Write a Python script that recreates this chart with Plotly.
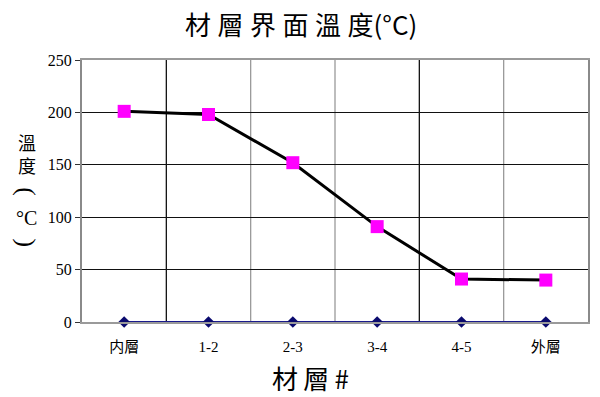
import plotly.graph_objects as go

categories = ["内層", "1-2", "2-3", "3-4", "4-5", "外層"]
temperature = [201, 198, 152, 91, 41, 40]
baseline = [0, 0, 0, 0, 0, 0]
y_ticks = [0, 50, 100, 150, 200, 250]

idx = list(range(len(categories)))
cjk = "Noto Sans CJK TC"
serif = "Liberation Serif, Noto Sans CJK TC"

fig = go.Figure()

# vertical separators between categories (gray, two darker)
dark_bounds = {0, 3}
for i in idx[:-1]:
    fig.add_shape(type="line", xref="x", yref="paper", x0=i + 0.5, x1=i + 0.5, y0=0, y1=1,
                  line=dict(color="#111111" if i in dark_bounds else "#9a9a9a", width=1.3), layer="below")

fig.add_trace(go.Scatter(x=idx, y=baseline, mode="lines+markers",
                         line=dict(color="#1a1a8c", width=2),
                         marker=dict(symbol="diamond", size=9, color="#0a0a6e"),
                         showlegend=False, cliponaxis=False))
fig.add_trace(go.Scatter(x=idx, y=temperature, mode="lines+markers",
                         line=dict(color="black", width=3),
                         marker=dict(symbol="square", size=13, color="#ff00ff"),
                         showlegend=False))

# page body adds an 8px offset; margins compensate so the plot area lands at x 82-588, y 60-322
sp = "\u2005"
fig.update_layout(
    width=600, height=397,
    margin=dict(l=74, r=20, t=52, b=83, autoexpand=False),
    paper_bgcolor="white", plot_bgcolor="white",
    xaxis=dict(range=[-0.5, 5.5], tickvals=idx, ticktext=categories, showgrid=False, automargin=False,
               zeroline=False, showline=True, linecolor="#9a9a9a", mirror=True, linewidth=1.5,
               ticks="", ticklabelstandoff=10, tickfont=dict(family=serif, size=15, color="black")),
    yaxis=dict(range=[0, 250], tickvals=y_ticks, showgrid=True, gridcolor="#111111", gridwidth=1.2,
               automargin=False,
               zeroline=True, zerolinecolor="black", zerolinewidth=1.5,
               showline=True, linecolor="#8a8a8a", linewidth=2, mirror=True,
               ticks="outside", ticklen=5, tickcolor="#333333",
               tickfont=dict(family=serif, size=16, color="black")),
)

# chart title
fig.add_annotation(text=sp.join("材層界面溫度") + "(°C)", xref="paper", yref="paper", x=0.433, y=1.14,
                   xanchor="center", yanchor="middle", showarrow=False,
                   font=dict(family=cjk, size=26, color="black"))

# x-axis title, placed slightly left of center as in the reference
fig.add_annotation(text="材\u2009層\u2009#", xref="paper", yref="paper", x=0.452, y=-0.21,
                   xanchor="center", yanchor="middle", showarrow=False,
                   font=dict(family=cjk, size=26, color="black"))

ytitle_x = -0.109
fig.add_annotation(text="溫<br>度", xref="paper", yref="paper",
                   x=ytitle_x, y=0.645, xanchor="center", yanchor="middle", showarrow=False,
                   font=dict(family=cjk, size=18, color="black"), align="center")
fig.add_annotation(text="(", textangle=90, xref="paper", yref="paper",
                   x=ytitle_x, y=0.496, xanchor="center", yanchor="middle", showarrow=False,
                   font=dict(family=serif, size=26, color="black"))
fig.add_annotation(text="°C", xref="paper", yref="paper",
                   x=ytitle_x, y=0.397, xanchor="center", yanchor="middle", showarrow=False,
                   font=dict(family=serif, size=20, color="black"))
fig.add_annotation(text=")", textangle=90, xref="paper", yref="paper",
                   x=ytitle_x, y=0.30, xanchor="center", yanchor="middle", showarrow=False,
                   font=dict(family=serif, size=26, color="black"))

fig.write_html("out.html")
